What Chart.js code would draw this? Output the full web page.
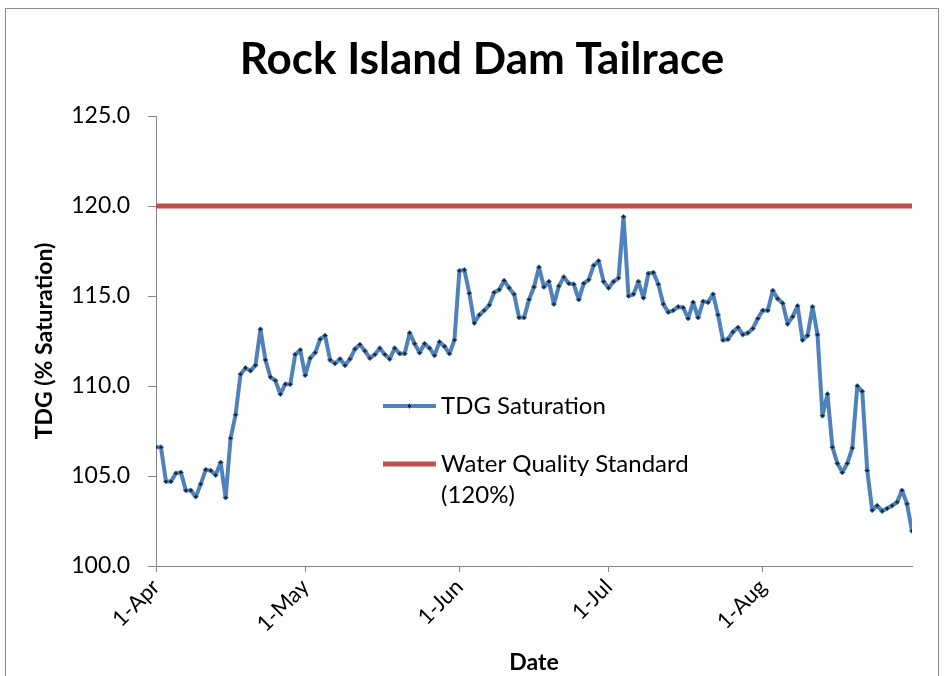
<!DOCTYPE html>
<html>
<head>
<meta charset="utf-8">
<script src="https://cdn.jsdelivr.net/npm/chart.js@4.4.0/dist/chart.umd.min.js"></script>
<style>
    html, body { margin: 0; padding: 0; background: #fff; overflow: hidden; }
    #moldura { position: absolute; left: 5px; top: 8px; width: 932px; height: 700px; border: 1px solid #8c8c8c; }
    #area { position: absolute; left: 0; top: 0; width: 944px; height: 676px; }
</style>
</head>
<body>
<div id="moldura"></div>
<div id="area"><canvas id="chartTdg" width="944" height="676"></canvas></div>
<script>
// dias desde 1-Apr (indice 0) ate 31-Aug (indice 152)
const monthTicks = [0, 30, 61, 91, 122];
const monthLabels = ['1-Apr', '1-May', '1-Jun', '1-Jul', '1-Aug'];
const yTicks = [100, 105, 110, 115, 120, 125];

const tdgSaturation = [
    // Apr
    106.6, 106.6, 104.7, 104.7, 105.15, 105.2, 104.2, 104.2, 103.85, 104.55,
    105.35, 105.3, 105.05, 105.75, 103.8, 107.1, 108.4, 110.65, 111.0, 110.85,
    111.15, 113.15, 111.45, 110.5, 110.3, 109.55, 110.1, 110.1, 111.75, 112.0,
    // May
    110.6, 111.55, 111.85, 112.6, 112.8, 111.45, 111.25, 111.5, 111.15, 111.5,
    112.05, 112.3, 111.95, 111.55, 111.75, 112.1, 111.75, 111.5, 112.1, 111.8,
    111.8, 112.95, 112.35, 111.85, 112.35, 112.1, 111.7, 112.45, 112.2, 111.8, 112.55,
    // Jun
    116.4, 116.45, 115.15, 113.5, 113.95, 114.2, 114.5, 115.2, 115.35, 115.85,
    115.45, 115.1, 113.8, 113.8, 114.8, 115.5, 116.6, 115.5, 115.8, 114.55,
    115.55, 116.05, 115.7, 115.65, 114.8, 115.7, 115.9, 116.7, 116.95, 115.8,
    // Jul
    115.45, 115.8, 116.0, 119.4, 115.0, 115.1, 115.8, 114.9, 116.25, 116.3,
    115.65, 114.55, 114.1, 114.2, 114.4, 114.35, 113.75, 114.65, 113.8, 114.7,
    114.65, 115.1, 113.95, 112.55, 112.6, 113.0, 113.25, 112.85, 112.95, 113.2, 113.75,
    // Aug
    114.2, 114.2, 115.3, 114.85, 114.6, 113.45, 113.85, 114.45, 112.55, 112.8,
    114.4, 112.85, 108.35, 109.55, 106.6, 105.7, 105.2, 105.7, 106.55, 110.0,
    109.7, 105.3, 103.1, 103.35, 103.05, 103.2, 103.35, 103.55, 104.2, 103.45, 101.95
];
const waterQualityStandard = 120;

const fonte = 'Lato, "Open Sans", sans-serif';
const cinza = '#868686';

// titulo do grafico
const tituloPlugin = {
    id: 'tituloPlugin',
    afterDraw(chart) {
        const ctx = chart.ctx;
        ctx.save();
        ctx.font = 'bold 44px ' + fonte;
        ctx.fillStyle = '#000';
        ctx.textAlign = 'center';
        ctx.textBaseline = 'middle';
        ctx.fillText('Rock Island Dam Tailrace', 482, 60);
        ctx.restore();
    }
};

// legenda dentro da area do grafico
const legendaPlugin = {
    id: 'legendaPlugin',
    afterDraw(chart) {
        const ctx = chart.ctx;
        const x0 = 383, larguraLinha = 53, yInicio = 406, espaco = 58, alturaLinha = 31;
        ctx.save();
        ctx.font = '24px ' + fonte;
        ctx.textBaseline = 'middle';
        let y = yInicio;
        chart.data.datasets.forEach(ds => {
            ctx.strokeStyle = ds.borderColor;
            ctx.lineWidth = ds.borderWidth;
            ctx.beginPath();
            ctx.moveTo(x0, y);
            ctx.lineTo(x0 + larguraLinha, y);
            ctx.stroke();
            if (ds.pointRadius > 0) {
                const r = ds.pointRadius;
                const cx = x0 + larguraLinha / 2;
                ctx.fillStyle = ds.pointBackgroundColor;
                ctx.strokeStyle = ds.pointBorderColor;
                ctx.lineWidth = ds.pointBorderWidth;
                ctx.beginPath();
                ctx.moveTo(cx, y - r); ctx.lineTo(cx + r, y); ctx.lineTo(cx, y + r); ctx.lineTo(cx - r, y);
                ctx.closePath();
                ctx.fill(); ctx.stroke();
            }
            // quebra de linha simples
            const palavras = ds.label.split(' ');
            const linhas = [];
            let atual = '';
            palavras.forEach(p => {
                const teste = atual ? atual + ' ' + p : p;
                if (ctx.measureText(teste).width > 300 && atual) { linhas.push(atual); atual = p; }
                else atual = teste;
            });
            linhas.push(atual);
            ctx.fillStyle = '#000';
            linhas.forEach((l, i) => ctx.fillText(l, x0 + larguraLinha + 5, y + i * alturaLinha));
            y += espaco;
        });
        ctx.restore();
    }
};

function carregarGrafico() {
    const ctx = document.getElementById('chartTdg').getContext('2d');
    const ultimoDia = tdgSaturation.length - 1;
    const myChart = new Chart(ctx, {
        type: 'line',
        data: {
            datasets: [{
                label: 'TDG Saturation',
                data: tdgSaturation.map((v, i) => ({ x: i, y: v })),
                borderColor: '#4F81BD',
                borderWidth: 4,
                borderJoinStyle: 'round',
                borderCapStyle: 'round',
                pointStyle: 'rectRot',
                pointRadius: 2.5,
                pointBackgroundColor: '#1b2733',
                pointBorderColor: '#4F81BD',
                pointBorderWidth: 1,
                tension: 0,
                fill: false
            }, {
                label: 'Water Quality Standard (120%)',
                data: [{ x: 0, y: waterQualityStandard }, { x: ultimoDia, y: waterQualityStandard }],
                borderColor: '#C0504D',
                borderWidth: 5,
                pointRadius: 0,
                tension: 0,
                fill: false
            }]
        },
        options: {
            responsive: false,
            animation: false,
            devicePixelRatio: 1,
            layout: { padding: { left: 30, right: 32, top: 116, bottom: 0 } },
            scales: {
                x: {
                    type: 'linear',
                    min: 0,
                    max: ultimoDia,
                    afterBuildTicks: scale => { scale.ticks = monthTicks.map(v => ({ value: v })); },
                    afterFit: scale => { scale.height = 110; },
                    ticks: {
                        callback: (v, i) => monthLabels[i],
                        minRotation: 45,
                        maxRotation: 45,
                        color: '#000',
                        padding: 2,
                        font: { family: fonte, size: 22 }
                    },
                    grid: { drawOnChartArea: false, tickLength: 6, color: cinza },
                    border: { color: cinza, width: 1 },
                    title: {
                        display: true,
                        text: 'Date',
                        color: '#000',
                        padding: { top: 0, bottom: 0 },
                        font: { family: fonte, size: 23, weight: 'bold' }
                    }
                },
                y: {
                    min: 100,
                    max: 125,
                    afterBuildTicks: scale => { scale.ticks = yTicks.map(v => ({ value: v })); },
                    afterFit: scale => { scale.width = 126; },
                    ticks: {
                        callback: v => v.toFixed(1),
                        color: '#000',
                        padding: 18,
                        font: { family: fonte, size: 23 }
                    },
                    grid: { drawOnChartArea: false, tickLength: 8, color: cinza },
                    border: { color: cinza, width: 1 },
                    title: {
                        display: true,
                        text: 'TDG (% Saturation)',
                        color: '#000',
                        padding: { top: 1, bottom: 0 },
                        font: { family: fonte, size: 23, weight: 'bold' }
                    }
                }
            },
            plugins: {
                legend: { display: false },
                tooltip: { enabled: false },
                title: { display: false }
            }
        },
        plugins: [tituloPlugin, legendaPlugin]
    });
    window.myChart = myChart;
}

carregarGrafico()
</script>
</body>
</html>
